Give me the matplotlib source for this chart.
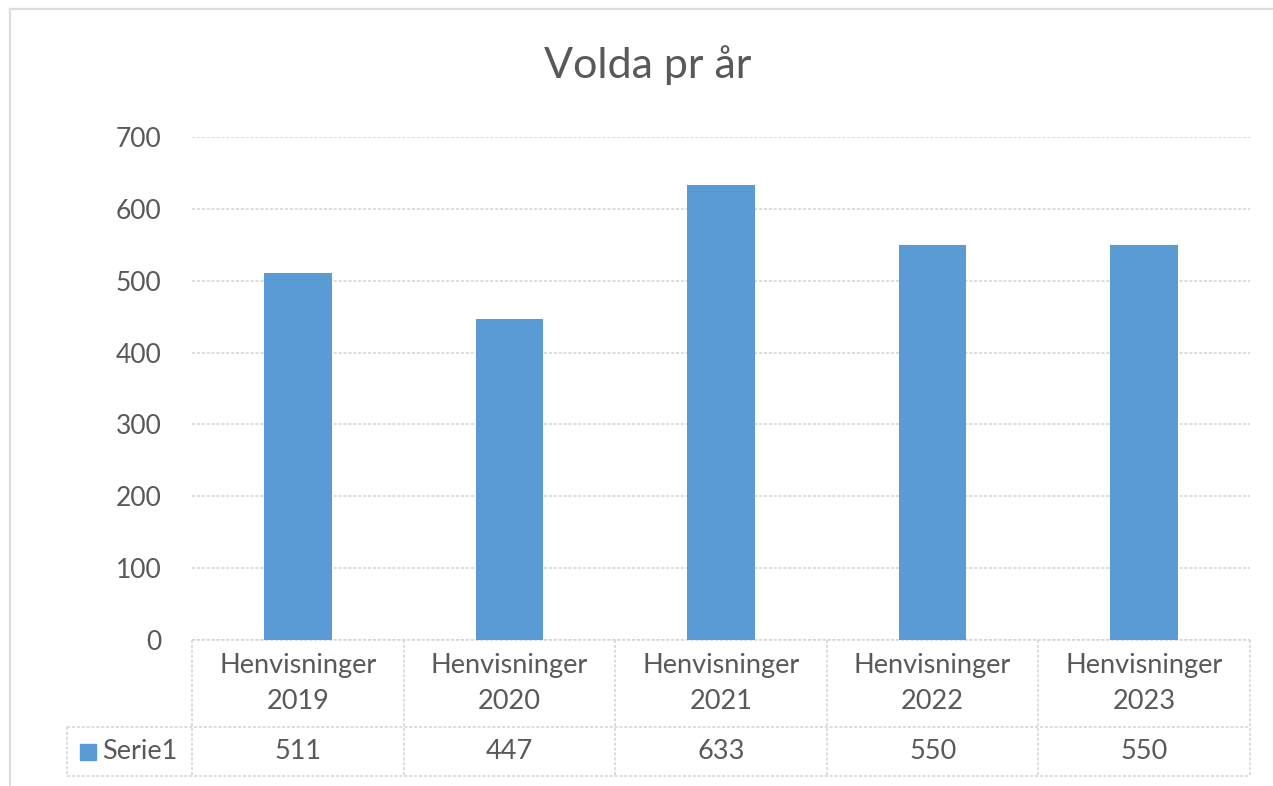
import matplotlib.pyplot as plt
from matplotlib.lines import Line2D

# data
years = ['2019', '2020', '2021', '2022', '2023']
values = [511, 447, 633, 550, 550]
series_name = 'Serie1'
category_prefix = 'Henvisninger'
title = 'Volda pr år'

bar_color = '#5B9BD5'
text_color = '#595959'
line_color = '#D3D3D3'

plt.rcParams['font.family'] = ['Lato', 'DejaVu Sans']

fig = plt.figure(figsize=(12.73, 7.86), dpi=100)
W, H = 1273, 786

# outer chart border (top and left visible)
fig.add_artist(Line2D([10 / W, 1], [1 - 9 / H, 1 - 9 / H], color='#DDDDDD', lw=1.6))
fig.add_artist(Line2D([10 / W, 10 / W], [0, 1 - 9 / H], color='#DDDDDD', lw=1.6))

ax = fig.add_axes([192 / W, (H - 640) / H, (1250 - 192) / W, (640 - 137) / H])

x = list(range(len(years)))
ax.bar(x, values, width=0.32, color=bar_color, zorder=3)

ax.set_xlim(-0.5, len(years) - 0.5)
ax.set_ylim(0, 700)
ax.set_yticks(range(0, 701, 100))
ax.set_xticks([])
ax.tick_params(axis='y', length=0, pad=22, labelsize=19, labelcolor=text_color)
for s in ax.spines.values():
    s.set_visible(False)
ax.yaxis.grid(True, color=line_color, linestyle=(0, (2, 1.2)), linewidth=1.1, zorder=0)

fig.text(648 / W, 1 - 65 / H, title, fontsize=31, color=text_color,
         ha='center', va='center')

# data table under the plot
tr = ax.get_xaxis_transform()
row1 = -87 / 503   # bottom of category row
row2 = -136 / 503  # bottom of value row
leg_left = -0.5 - 125 / 211.6
tbl = dict(color=line_color, linestyle=(0, (2, 1.2)), linewidth=1.1,
           transform=tr, clip_on=False)

n = len(years)
ax.plot([-0.5, n - 0.5], [0, 0], **tbl)
ax.plot([leg_left, n - 0.5], [row1, row1], **tbl)
ax.plot([leg_left, n - 0.5], [row2, row2], **tbl)
for i in range(n + 1):
    ax.plot([i - 0.5, i - 0.5], [0, row2], **tbl)
ax.plot([leg_left, leg_left], [row1, row2], **tbl)

for i, (yr, v) in enumerate(zip(years, values)):
    ax.text(i, row1 / 2, f'{category_prefix}\n{yr}', transform=tr, ha='center',
            va='center', fontsize=19.5, color=text_color, linespacing=1.55)
    ax.text(i, (row1 + row2) / 2, str(v), transform=tr, ha='center',
            va='center', fontsize=19.5, color=text_color)

# legend key + series name
key_w = 16 / 211.6
ax.add_patch(plt.Rectangle((leg_left + 13 / 211.6, (row1 + row2) / 2 - 8 / 503),
                           key_w, 16 / 503, transform=tr, color=bar_color,
                           clip_on=False))
ax.text(leg_left + 35 / 211.6, (row1 + row2) / 2, series_name, transform=tr,
        ha='left', va='center', fontsize=19.5, color=text_color)

fig.savefig('out.png', dpi=100)
